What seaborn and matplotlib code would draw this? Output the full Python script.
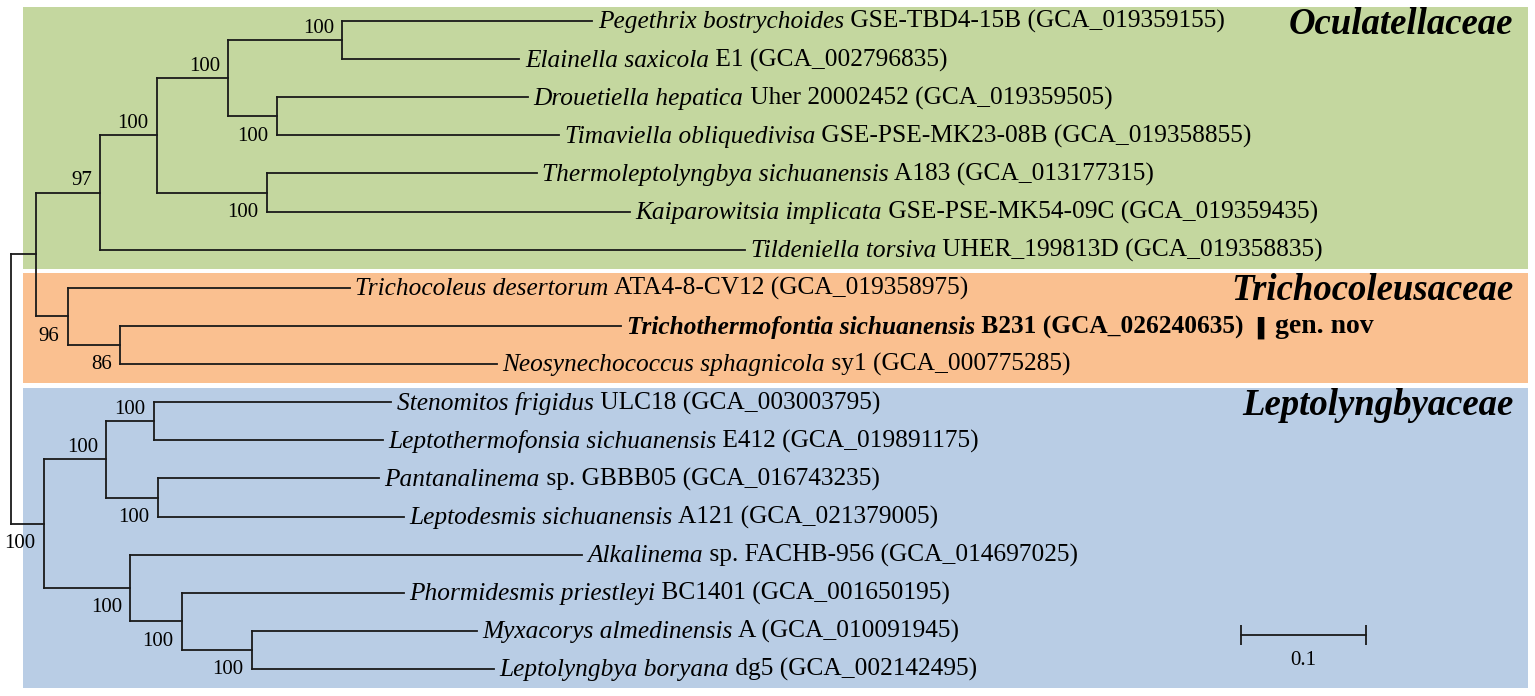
import matplotlib.pyplot as plt
import matplotlib.transforms as mtransforms
from matplotlib.patches import Rectangle
import seaborn as sns
import pandas as pd

# leaves, top to bottom
leaf_genus = [
    "Pegethrix bostrychoides", "Elainella saxicola", "Drouetiella hepatica",
    "Timaviella obliquedivisa", "Thermoleptolyngbya sichuanensis",
    "Kaiparowitsia implicata", "Tildeniella torsiva", "Trichocoleus desertorum",
    "Trichothermofontia sichuanensis", "Neosynechococcus sphagnicola",
    "Stenomitos frigidus", "Leptothermofonsia sichuanensis", "Pantanalinema",
    "Leptodesmis sichuanensis", "Alkalinema", "Phormidesmis priestleyi",
    "Myxacorys almedinensis", "Leptolyngbya boryana",
]
leaf_strain = [
    "GSE-TBD4-15B (GCA_019359155)", "E1 (GCA_002796835)",
    "Uher 20002452 (GCA_019359505)", "GSE-PSE-MK23-08B (GCA_019358855)",
    "A183 (GCA_013177315)", "GSE-PSE-MK54-09C (GCA_019359435)",
    "UHER_199813D (GCA_019358835)", "ATA4-8-CV12 (GCA_019358975)",
    "B231 (GCA_026240635)", "sy1 (GCA_000775285)", "ULC18 (GCA_003003795)",
    "E412 (GCA_019891175)", "sp. GBBB05 (GCA_016743235)",
    "A121 (GCA_021379005)", "sp. FACHB-956 (GCA_014697025)",
    "BC1401 (GCA_001650195)", "A (GCA_010091945)", "dg5 (GCA_002142495)",
]
leaf_parent = [5, 5, 6, 6, 7, 7, 2, 8, 9, 9, 12, 12, 13, 13, 14, 15, 16, 16]
leaf_branch = [0.199, 0.141, 0.200, 0.225, 0.215, 0.289, 0.514, 0.225, 0.399,
               0.300, 0.189, 0.182, 0.176, 0.196, 0.360, 0.177, 0.179, 0.193]
new_genus = 8

# internal nodes (0 = root); parent index is always smaller than the node
node_parent = [-1, 0, 1, 2, 3, 4, 4, 3, 1, 8, 0, 10, 11, 11, 10, 14, 15]
node_branch = [0.0, 0.020, 0.051, 0.045, 0.057, 0.091, 0.039, 0.088, 0.025,
               0.042, 0.026, 0.050, 0.038, 0.041, 0.069, 0.041, 0.056]
node_support = [None, None, 97, 100, 100, 100, 100, 100, 96, 86,
                100, 100, 100, 100, 100, 100, 100]

family_names = ["Oculatellaceae", "Trichocoleusaceae", "Leptolyngbyaceae"]
family_first = [0, 7, 10]
family_last = [6, 9, 17]
family_colors = ["#c4d79f", "#fac090", "#b9cde5"]

scale_len = 0.1

# node positions
n_int = len(node_parent)
node_x = [0.0] * n_int
for i in range(1, n_int):
    node_x[i] = node_x[node_parent[i]] + node_branch[i]
leaf_x = [node_x[p] + b for p, b in zip(leaf_parent, leaf_branch)]
leaf_y = list(range(len(leaf_genus)))

child_y = {i: [] for i in range(n_int)}
for y, p in zip(leaf_y, leaf_parent):
    child_y[p].append(y)
node_y = [0.0] * n_int
for i in range(n_int - 1, -1, -1):
    node_y[i] = (min(child_y[i]) + max(child_y[i])) / 2
    if node_parent[i] >= 0:
        child_y[node_parent[i]].append(node_y[i])

# branch segments
rows = []
seg = 0
for i in range(n_int):
    rows += [(seg, node_x[i], min(child_y[i])), (seg, node_x[i], max(child_y[i]))]
    seg += 1
    if node_parent[i] >= 0:
        rows += [(seg, node_x[node_parent[i]], node_y[i]), (seg, node_x[i], node_y[i])]
        seg += 1
for p, x, y in zip(leaf_parent, leaf_x, leaf_y):
    rows += [(seg, node_x[p], y), (seg, x, y)]
    seg += 1
segs = pd.DataFrame(rows, columns=["seg", "x", "y"])

sns.set_theme(style="white")
plt.rcParams["font.family"] = ["Liberation Serif", "DejaVu Sans"]
plt.rcParams["text.color"] = "black"

fig = plt.figure(figsize=(15.35, 6.96), dpi=100)
ax = fig.add_axes([0, 0, 1, 1])
ax.set_xlim(-0.0088, 1.2143)
ax.set_ylim(17.707, -0.551)
ax.axis("off")

# family boxes
trans = mtransforms.blended_transform_factory(ax.transAxes, ax.transData)
for name, first, last, color in zip(family_names, family_first, family_last, family_colors):
    ax.add_patch(Rectangle((0.015, first - 0.38), 0.9805, last - first + 0.88,
                           transform=trans, facecolor=color, edgecolor="none", zorder=0))
    ax.text(0.986, first + 0.33, name, transform=trans, ha="right", va="baseline",
            fontsize=26.5, fontweight="bold", fontstyle="italic", zorder=3)

sns.lineplot(data=segs, x="x", y="y", units="seg", estimator=None, sort=False,
             color="#1a1a1a", lw=1.3, ax=ax, legend=False, solid_capstyle="projecting")
ax.axis("off")

# leaf labels
for i, (g, s, x, y) in enumerate(zip(leaf_genus, leaf_strain, leaf_x, leaf_y)):
    weight = "bold" if i == new_genus else "normal"
    t1 = ax.annotate(g, xy=(x, y), xytext=(4, -1), textcoords="offset points",
                     ha="left", va="center", fontsize=18.3, fontstyle="italic",
                     fontweight=weight, zorder=3)
    t2 = ax.annotate(" " + s, xy=(1, 0), xycoords=t1, ha="left", va="bottom",
                     fontsize=18.3, fontweight=weight, zorder=3)
    if i == new_genus:
        ax.annotate("\u258d", xy=(1, 0.5), xycoords=t2, xytext=(10, 0),
                    textcoords="offset points", ha="left", va="center",
                    fontsize=16, family="DejaVu Sans", zorder=3)
        ax.annotate("gen. nov", xy=(1, 0), xycoords=t2, xytext=(23, 0),
                    textcoords="offset points", ha="left", va="bottom",
                    fontsize=20, fontweight="bold", zorder=3)

# bootstrap values
for i in range(n_int):
    if node_support[i] is None:
        continue
    upper = node_y[i] < node_y[node_parent[i]]
    ax.annotate(str(node_support[i]), xy=(node_x[i], node_y[i]),
                xytext=(-6, 5.4 if upper else -17.6), textcoords="offset points",
                ha="right", va="baseline", fontsize=15, zorder=3)

# scale bar
sx, sy = 0.98, 16.1
ax.plot([sx, sx + scale_len], [sy, sy], color="#1a1a1a", lw=1.3,
        marker="|", markersize=14, markeredgewidth=1.3)
ax.annotate(f"{scale_len:g}", xy=(sx + scale_len / 2, sy), xytext=(0, -12),
            textcoords="offset points", ha="center", va="top", fontsize=15)

fig.savefig("out.png", dpi=100)
